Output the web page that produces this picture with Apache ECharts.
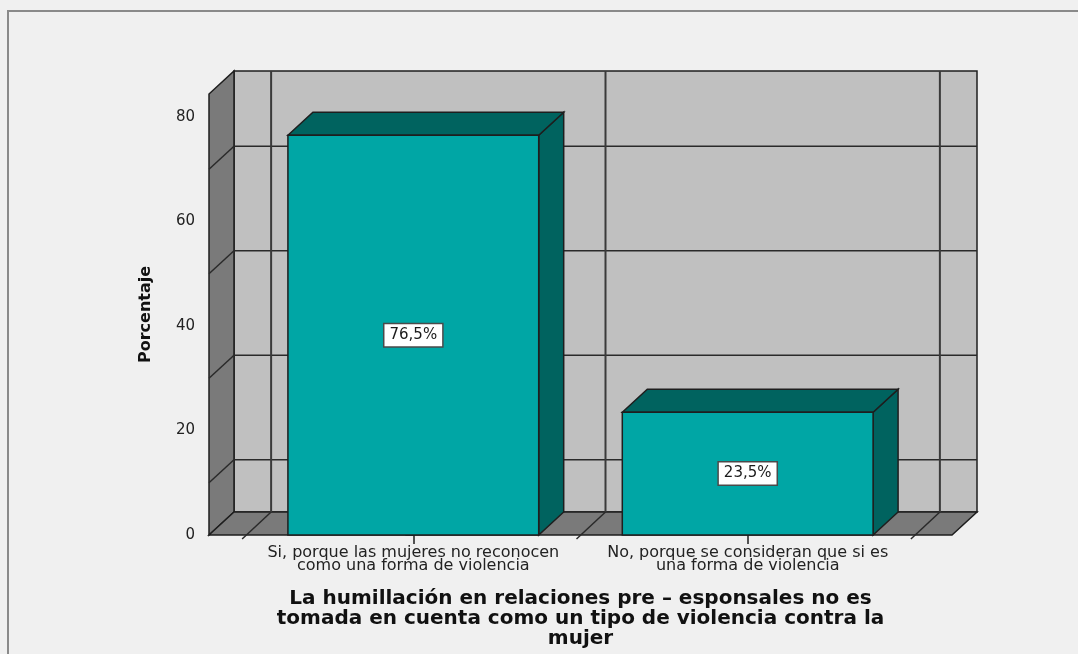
<!DOCTYPE html>
<html>
<head>
<meta charset="utf-8">
<script src="https://cdn.jsdelivr.net/npm/echarts@6/dist/echarts.min.js"></script>
<style>
html,body{margin:0;padding:0;background:#f0f0f0;}
#c{width:1078px;height:654px;}
</style>
</head>
<body>
<div id="c"></div>
<script>
// ---- data ----
const categories = [
  'Si, porque las mujeres no reconocen\ncomo una forma de violencia',
  'No, porque se consideran que si es\nuna forma de violencia'
];
const percentages = [76.5, 23.5];
const valueLabels = ['76,5%', '23,5%'];
const yTicks = [0, 20, 40, 60, 80];
const wallGridValues = [10, 30, 50, 70];
const categoryBoundaries = [-0.5, 0.5, 1.5];
const yAxisTitle = 'Porcentaje';
const xAxisTitle = 'La humillación en relaciones pre – esponsales no es\ntomada en cuenta como un tipo de violencia contra la\nmujer';

// ---- layout constants ----
const XMIN = -0.611, XMAX = 1.611, YMAX = 84.4;
const DX = 25, DY = -23;          // 3D depth offset
const BAR_FRACTION = 0.75;
const LINE = '#1e1e1e';
const FONT = 'DejaVu Sans';

const chart = echarts.init(document.getElementById('c'), null, {renderer: 'canvas'});

function wallRender(params, api) {
  const fb = api.coord([XMIN, 0]);
  const ft = api.coord([XMIN, YMAX]);
  const fr = api.coord([XMAX, 0]);
  const x0 = fb[0], yb = fb[1], yt = ft[1], xr = fr[0];
  const children = [];
  const lw = 1.5;
  children.push({type: 'polygon', shape: {points: [[x0 + DX, yt + DY], [xr + DX, yt + DY], [xr + DX, yb + DY], [x0 + DX, yb + DY]]},
    style: {fill: '#c0c0c0', stroke: LINE, lineWidth: lw}});
  children.push({type: 'polygon', shape: {points: [[x0, yb], [x0, yt], [x0 + DX, yt + DY], [x0 + DX, yb + DY]]},
    style: {fill: '#7a7a7a', stroke: LINE, lineWidth: lw}});
  children.push({type: 'polygon', shape: {points: [[x0, yb], [xr, yb], [xr + DX, yb + DY], [x0 + DX, yb + DY]]},
    style: {fill: '#7a7a7a', stroke: LINE, lineWidth: lw}});
  wallGridValues.forEach(v => {
    const y = api.coord([0, v])[1];
    children.push({type: 'line', shape: {x1: x0 + DX, y1: y + DY, x2: xr + DX, y2: y + DY}, style: {stroke: '#2a2a2a', lineWidth: 1.5}});
    children.push({type: 'line', shape: {x1: x0, y1: y, x2: x0 + DX, y2: y + DY}, style: {stroke: '#2a2a2a', lineWidth: 1.5}});
  });
  categoryBoundaries.forEach(b => {
    const x = api.coord([b, 0])[0];
    children.push({type: 'line', shape: {x1: x + DX, y1: yt + DY, x2: x + DX, y2: yb + DY}, style: {stroke: '#3a3a3a', lineWidth: 2}});
    children.push({type: 'line', shape: {x1: x - 4, y1: yb + 4, x2: x + DX, y2: yb + DY}, style: {stroke: '#2a2a2a', lineWidth: 1.5}});
  });
  return {type: 'group', children: children};
}

function barRender(params, api) {
  const i = api.value(0), v = api.value(1);
  const top = api.coord([i, v]);
  const base = api.coord([i, 0]);
  const w = api.size([BAR_FRACTION, 0])[0];
  const x0 = top[0] - w / 2, x1 = top[0] + w / 2, yt = top[1], yb = base[1];
  const lw = 1.5;
  return {type: 'group', children: [
    {type: 'polygon', shape: {points: [[x1, yt], [x1 + DX, yt + DY], [x1 + DX, yb + DY], [x1, yb]]},
      style: {fill: '#00635f', stroke: LINE, lineWidth: lw}},
    {type: 'polygon', shape: {points: [[x0, yt], [x0 + DX, yt + DY], [x1 + DX, yt + DY], [x1, yt]]},
      style: {fill: '#00635f', stroke: LINE, lineWidth: lw}},
    {type: 'rect', shape: {x: x0, y: yt, width: x1 - x0, height: yb - yt},
      style: {fill: '#00a6a5', stroke: LINE, lineWidth: lw}},
    {type: 'text', x: top[0], y: (yt + yb) / 2,
      style: {text: valueLabels[params.dataIndex], align: 'center', verticalAlign: 'middle',
        font: '15px ' + FONT, fill: '#1a1a1a', backgroundColor: '#ffffff', borderColor: '#4a4a4a', borderWidth: 1.5,
        padding: [4, 5, 3, 5]}}
  ]};
}

const option = {
  backgroundColor: '#f0f0f0',
  animation: false,
  graphic: [{type: 'rect', shape: {x: 8, y: 11, width: 1200, height: 800}, style: {fill: 'none', stroke: '#8a8a8a', lineWidth: 2}, z: 100}],
  grid: {left: 209, right: 126, top: 94, bottom: 118},
  xAxis: {
    type: 'value', min: XMIN, max: XMAX,
    axisLine: {show: false}, splitLine: {show: false},
    axisTick: {show: true, customValues: [0, 1], length: 9, lineStyle: {color: LINE, width: 1.5}},
    axisLabel: {customValues: [0, 1], formatter: v => categories[Math.round(v)], margin: 11,
      fontFamily: FONT, fontSize: 16, lineHeight: 13, color: '#222'},
    name: xAxisTitle, nameLocation: 'middle', nameGap: 54,
    nameTextStyle: {fontFamily: FONT, fontWeight: 'bold', fontSize: 20, lineHeight: 20, color: '#111', verticalAlign: 'top'}
  },
  yAxis: {
    type: 'value', min: 0, max: YMAX, interval: 20,
    axisLine: {show: true, lineStyle: {color: LINE, width: 1.5}},
    splitLine: {show: false},
    axisTick: {show: true, customValues: yTicks, length: 8, lineStyle: {color: LINE, width: 1.5}},
    axisLabel: {customValues: yTicks, margin: 14, fontFamily: FONT, fontSize: 15, color: '#222'},
    name: yAxisTitle, nameLocation: 'middle', nameRotate: 90, nameGap: 55,
    nameTextStyle: {fontFamily: FONT, fontWeight: 'bold', fontSize: 16, color: '#111'}
  },
  series: [
    {type: 'custom', renderItem: wallRender, data: [[0, 0]], silent: true, clip: false, z: 1},
    {type: 'custom', renderItem: barRender, data: percentages.map((v, i) => [i, v]), clip: false, z: 2}
  ]
};
chart.setOption(option);
</script>
</body>
</html>
